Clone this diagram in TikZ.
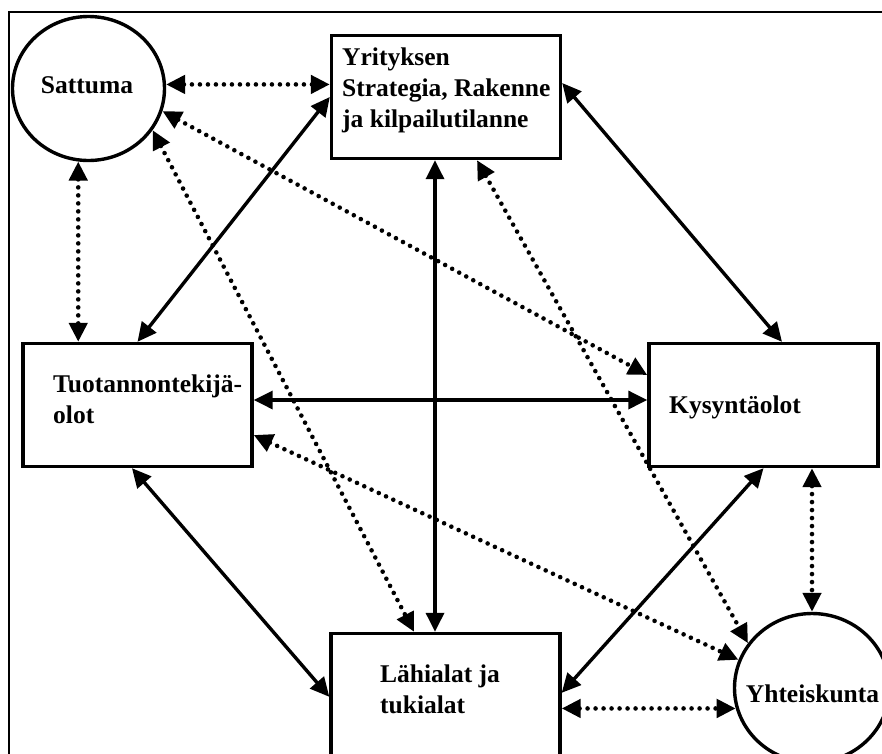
\documentclass[tikz,border=0pt]{standalone}
\usepackage{fontspec}
\setmainfont{Liberation Serif}
\usetikzlibrary{arrows.meta,shapes.geometric}
\begin{document}
\begin{tikzpicture}[x=1pt,y=-1pt,
  every node/.style={inner sep=0pt},
  box/.style={draw, line width=3.4pt, rectangle, minimum width=229pt, minimum height=123pt},
  oval/.style={draw, line width=3.4pt, ellipse},
  lbl/.style={font=\bfseries\fontsize{25.5}{31}\selectfont, align=left},
  tips/.style={{Triangle[length=19pt,width=18pt]}-{Triangle[length=19pt,width=18pt]}},
  solidarrow/.style={tips, line width=3.4pt},
  dotarrow/.style={tips, line width=4.6pt, line cap=round, dash pattern=on 0pt off 8pt},
]
\clip (0,0) rectangle (882,753);
\fill[white] (0,0) rectangle (882,753);

% outer frame
\draw[line width=2pt] (9,12) rectangle (1000,1000);

% the six factors
\node[oval, minimum width=152pt, minimum height=144pt] (sat) at (88.5,88.5) {};
\node[box] (yr) at (446,97) {};
\node[box] (tu) at (137.5,405) {};
\node[box] (kys) at (763.5,405) {};
\node[box, minimum height=300pt] (la) at (445.5,783.5) {};
\node[oval, minimum width=155pt, minimum height=149pt] (yh) at (812,688) {};

% labels (base anchor sits on the last line)
\node[lbl, anchor=base] (sat-t) at (87,93) {Sattuma};
\node[lbl, anchor=base west] (yr-t) at (342,127) {Yrityksen\\Strategia, Rakenne\\ja kilpailutilanne};
\node[lbl, anchor=base west] (tu-t) at (53,423) {Tuotannontekijä-\\olot};
\node[lbl, anchor=base west] (kys-t) at (669,413) {Kysyntäolot};
\node[lbl, anchor=base west] (la-t) at (380,713) {Lähialat ja\\tukialat};
\node[lbl, anchor=base] (yh-t) at (812.5,702) {Yhteiskunta};

% solid links
\draw[solidarrow] (yr.west) -- (tu.north);
\draw[solidarrow] ([yshift=14pt]yr.east) -- ([xshift=18.5pt]kys.north);
\draw[solidarrow] ([xshift=-11pt]yr.south) -- ([xshift=-11pt]yr.south |- la.north);
\draw[solidarrow] ([yshift=5pt]tu.east) -- ([yshift=5pt]tu.east -| kys.west);
\draw[solidarrow] ([xshift=-5.5pt]tu.south) -- ([yshift=-65pt]la.north west);
\draw[solidarrow] (kys.south) -- ([yshift=-61pt]la.north east);

% dotted links
\draw[dotarrow] (sat.3.5) -- (sat.3.5 -| yr.west);
\draw[dotarrow] (sat.262.6) -- (sat.262.6 |- tu.north);
\draw[dotarrow] (sat.-17) -- ([yshift=30pt]kys.west);
\draw[dotarrow] (sat.-33) -- ([xshift=-31.5pt]la.north);
\draw[dotarrow] ([xshift=31pt]yr.south) -- (yh.145);
\draw[dotarrow] ([yshift=-30pt]tu.east) -- (yh.159);
\draw[dotarrow] (yh.north |- kys.south) -- (yh.north);
\draw[dotarrow] (yh.195 -| la.east) -- (yh.195);
\end{tikzpicture}
\end{document}
